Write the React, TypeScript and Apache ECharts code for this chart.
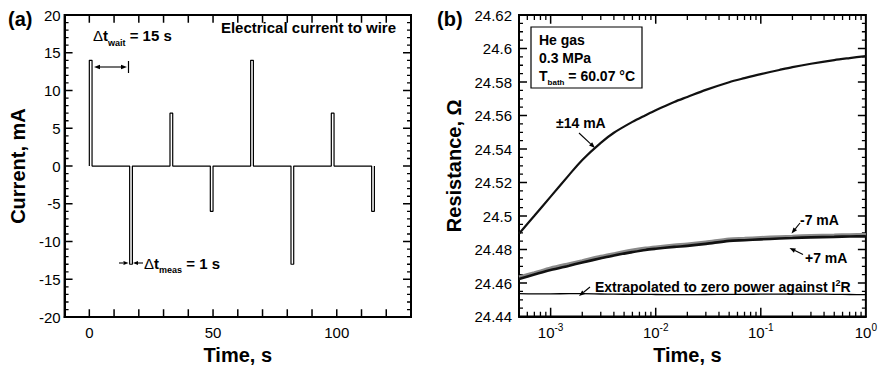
import React, { useEffect, useRef } from "react";
import * as echarts from "echarts";

// ---------- Panel (a): current pulses ----------
const pulseStart = [0, 16.3, 32.6, 48.9, 65.2, 81.5, 97.8, 114.1]; // s
const pulseAmp = [14, -13, 7, -6, 14, -13, 7, -6]; // mA
const pulseWidth = 1.1; // s
const timeLabelsA = [0, 50, 100];

// ---------- Panel (b): resistance vs time ----------
const timeS = [5e-4, 7e-4, 1e-3, 1.5e-3, 2e-3, 3e-3, 4e-3, 6e-3, 8e-3, 0.01, 0.015, 0.02, 0.03, 0.05, 0.07, 0.1, 0.15, 0.2, 0.3, 0.5, 0.7, 1];
const r14mA = [24.4895, 24.5002, 24.5116, 24.5246, 24.5335, 24.5437, 24.5497, 24.5562, 24.5602, 24.5632, 24.5681, 24.5711, 24.5753, 24.5799, 24.5823, 24.5847, 24.5872, 24.5889, 24.5909, 24.5931, 24.5943, 24.5955];
const rMinus7mA = [24.4637, 24.4662, 24.469, 24.4716, 24.4734, 24.476, 24.4776, 24.4797, 24.4809, 24.4816, 24.4827, 24.4833, 24.4845, 24.4863, 24.4867, 24.4872, 24.4877, 24.488, 24.4884, 24.4887, 24.4889, 24.489];
const rPlus7mA = [24.4625, 24.4651, 24.4678, 24.4704, 24.4723, 24.4748, 24.4765, 24.4785, 24.4798, 24.4805, 24.4816, 24.4822, 24.4834, 24.4852, 24.4856, 24.4861, 24.4866, 24.4869, 24.4873, 24.4876, 24.4878, 24.4879];
const rZeroPower = [24.4537, 24.4536, 24.4536, 24.4537, 24.4537, 24.4535, 24.4534, 24.4533, 24.4533, 24.4532, 24.4531, 24.4531, 24.4532, 24.4533, 24.4533, 24.4534, 24.4534, 24.4534, 24.4534, 24.4533, 24.4532, 24.4531];
const decadeTimes = [1e-3, 1e-2, 1e-1];
const minorMultipliers = [2, 3, 4, 5, 6, 7, 8, 9];
const tMin = 5e-4;
const tMax = 1;

const FONT = "'Liberation Sans', Arial, Helvetica, sans-serif";
const BLACK = "#000";
const OB = 430; // left offset of panel (b) canvas
const GRID_W = 347;
const GRID_H = 307;

function arrow(x1: number, y1: number, x2: number, y2: number, head = 6, half = 2.3) {
  const dx = x2 - x1, dy = y2 - y1;
  const L = Math.hypot(dx, dy);
  const ux = dx / L, uy = dy / L;
  const bx = x2 - ux * head, by = y2 - uy * head;
  return [
    { type: "line", shape: { x1, y1, x2: bx, y2: by }, style: { stroke: BLACK, lineWidth: 1.1 } },
    {
      type: "polygon",
      shape: { points: [[x2, y2], [bx - uy * half, by + ux * half], [bx + uy * half, by - ux * half]] },
      style: { fill: BLACK },
    },
  ];
}

function txt(text: string, x: number, y: number, size = 14, align = "left", weight = "bold") {
  return {
    type: "text",
    style: { text, x, y, fill: BLACK, fontSize: size, fontWeight: weight, fontFamily: FONT, align, verticalAlign: "middle" },
  };
}

function range(a: number, b: number, step: number) {
  const out: number[] = [];
  const n = Math.round((b - a) / step);
  for (let i = 0; i <= n; i++) out.push(+(a + i * step).toFixed(6));
  return out;
}

// One short line series per tick mark, so ticks go through the axes' own scales.
function tickLine(p: number[], q: number[], width: number) {
  return {
    type: "line",
    data: [p, q],
    showSymbol: false,
    silent: true,
    z: 3,
    lineStyle: { color: BLACK, width },
  };
}

const nameStyle = { fontSize: 20, fontWeight: "bold", fontFamily: FONT, color: BLACK };
const labelStyle = { fontSize: 15, fontFamily: FONT, color: BLACK };

export default function App() {
  const refA = useRef<HTMLDivElement>(null);
  const refB = useRef<HTMLDivElement>(null);

  useEffect(() => {
    if (!refA.current || !refB.current) return;

    // ================= Panel (a) =================
    const chartA = echarts.init(refA.current, undefined, { renderer: "svg" });
    const wave: number[][] = [];
    pulseStart.forEach((s, i) => {
      wave.push([s, 0], [s, pulseAmp[i]], [s + pulseWidth, pulseAmp[i]], [s + pulseWidth, 0]);
    });

    const xA: [number, number] = [-10, 130];
    const yA: [number, number] = [-20, 20];
    const pxToY_A = (px: number) => (px * (yA[1] - yA[0])) / GRID_H;
    const pxToX_A = (px: number) => (px * (xA[1] - xA[0])) / GRID_W;
    const ticksA: any[] = [];
    range(xA[0], xA[1], 10)
      .filter((v) => v > xA[0] && v < xA[1])
      .forEach((v) => {
        ticksA.push(tickLine([v, yA[0]], [v, yA[0] + pxToY_A(8)], 1.5));
        ticksA.push(tickLine([v, yA[1]], [v, yA[1] - pxToY_A(8)], 1.5));
      });
    range(yA[0], yA[1], 1)
      .filter((v) => v > yA[0] && v < yA[1])
      .forEach((v) => {
        const major = v % 5 === 0;
        const len = pxToX_A(major ? 8 : 4);
        const w = major ? 1.5 : 1.3;
        ticksA.push(tickLine([xA[0], v], [xA[0] + len, v], w));
        ticksA.push(tickLine([xA[1], v], [xA[1] - len, v], w));
      });

    chartA.setOption({
      animation: false,
      backgroundColor: "#fff",
      grid: { left: 64, top: 15, width: GRID_W, height: GRID_H, show: true, borderColor: BLACK, borderWidth: 2, backgroundColor: "transparent" },
      xAxis: {
        type: "value",
        min: xA[0],
        max: xA[1],
        interval: 10,
        axisLine: { show: true, onZero: false, lineStyle: { color: BLACK, width: 2 } },
        axisTick: { show: false },
        axisLabel: { ...labelStyle, margin: 8, formatter: (v: number) => (timeLabelsA.includes(v) ? String(v) : "") },
        splitLine: { show: false },
        name: "Time, s",
        nameLocation: "middle",
        nameGap: 23,
        nameTextStyle: { ...nameStyle },
      },
      yAxis: {
        type: "value",
        min: yA[0],
        max: yA[1],
        interval: 5,
        axisLine: { show: true, onZero: false, lineStyle: { color: BLACK, width: 2 } },
        axisTick: { show: false },
        axisLabel: { ...labelStyle, margin: 4 },
        splitLine: { show: false },
        name: "Current, mA",
        nameLocation: "middle",
        nameGap: 34,
        nameTextStyle: { ...nameStyle },
      },
      series: [
        ...ticksA,
        { type: "line", data: wave, showSymbol: false, z: 4, lineStyle: { color: BLACK, width: 1.2 } },
      ],
      graphic: [
        txt("(a)", 8, 19, 20),
        {
          type: "text",
          style: {
            text: "{d|Δ}{t|t}{s|wait}{b| = 15 s}",
            x: 93,
            y: 35.5,
            verticalAlign: "middle",
            fill: BLACK,
            rich: {
              d: { fontSize: 15, fontFamily: FONT, fill: BLACK },
              t: { fontSize: 15, fontFamily: FONT, fontWeight: "bold", fill: BLACK },
              s: { fontSize: 9, fontFamily: FONT, fontWeight: "bold", fill: BLACK, padding: [14, 0, 0, 0] },
              b: { fontSize: 15, fontFamily: FONT, fontWeight: "bold", fill: BLACK },
            },
          },
        },
        ...arrow(110, 67, 94, 67),
        ...arrow(110, 67, 127, 67),
        { type: "line", shape: { x1: 128.5, y1: 61, x2: 128.5, y2: 73 }, style: { stroke: BLACK, lineWidth: 1.2 } },
        txt("Electrical current to wire", 396, 27, 15, "right"),
        {
          type: "text",
          style: {
            text: "{d|Δ}{t|t}{s|meas}{b| = 1 s}",
            x: 144,
            y: 263.5,
            verticalAlign: "middle",
            fill: BLACK,
            rich: {
              d: { fontSize: 15, fontFamily: FONT, fill: BLACK },
              t: { fontSize: 15, fontFamily: FONT, fontWeight: "bold", fill: BLACK },
              s: { fontSize: 9, fontFamily: FONT, fontWeight: "bold", fill: BLACK, padding: [12, 0, 0, 0] },
              b: { fontSize: 15, fontFamily: FONT, fontWeight: "bold", fill: BLACK },
            },
          },
        },
        ...arrow(119, 263, 128.5, 263, 5, 2),
        ...arrow(143, 263, 133, 263, 5, 2),
      ],
    });

    // ================= Panel (b) =================
    const chartB = echarts.init(refB.current, undefined, { renderer: "svg" });
    const mk = (arr: number[]) => arr.map((v, i) => [timeS[i], v]);
    const isDecade = (v: number) => {
      const e = Math.log10(v);
      return Math.abs(e - Math.round(e)) < 1e-6;
    };
    const yB: [number, number] = [24.44, 24.62];
    const decadesSpan = Math.log10(tMax) - Math.log10(tMin);
    const pxToY_B = (px: number) => (px * (yB[1] - yB[0])) / GRID_H;
    const pxToFactor_B = (px: number) => Math.pow(10, (px * decadesSpan) / GRID_W);
    const ticksB: any[] = [];
    const minorT: number[] = [];
    for (let d = -4; d <= -1; d++) {
      minorMultipliers.forEach((k) => {
        const t = k * Math.pow(10, d);
        if (t > tMin * 1.0001 && t < tMax) minorT.push(t);
      });
    }
    decadeTimes.forEach((t) => {
      ticksB.push(tickLine([t, yB[0]], [t, yB[0] + pxToY_B(9)], 1.5));
      ticksB.push(tickLine([t, yB[1]], [t, yB[1] - pxToY_B(9)], 1.5));
    });
    minorT.forEach((t) => {
      ticksB.push(tickLine([t, yB[0]], [t, yB[0] + pxToY_B(5)], 1.3));
      ticksB.push(tickLine([t, yB[1]], [t, yB[1] - pxToY_B(5)], 1.3));
    });
    range(yB[0], yB[1], 0.005)
      .filter((v) => v > yB[0] + 1e-6 && v < yB[1] - 1e-6)
      .forEach((v) => {
        const major = Math.abs(Math.round(v * 50) - v * 50) < 1e-6;
        const f = pxToFactor_B(major ? 8 : 4);
        const w = major ? 1.5 : 1.3;
        ticksB.push(tickLine([tMin, v], [tMin * f, v], w));
        ticksB.push(tickLine([tMax, v], [tMax / f, v], w));
      });

    chartB.setOption({
      animation: false,
      backgroundColor: "#fff",
      grid: { left: 519 - OB, top: 15, width: GRID_W, height: GRID_H, show: true, borderColor: BLACK, borderWidth: 2, backgroundColor: "transparent" },
      xAxis: {
        type: "log",
        logBase: 10,
        min: tMin,
        max: tMax,
        axisLine: { show: true, onZero: false, lineStyle: { color: BLACK, width: 2 } },
        axisTick: { show: false },
        axisLabel: {
          ...labelStyle,
          margin: 6,
          formatter: (v: number) => (isDecade(v) ? `{n|10}{e|${Math.round(Math.log10(v))}}` : ""),
          rich: {
            n: { fontSize: 15, fontFamily: FONT, color: BLACK },
            e: { fontSize: 10, fontFamily: FONT, color: BLACK, padding: [0, 0, 10, 0] },
          },
        },
        splitLine: { show: false },
        minorTick: { show: false },
        name: "Time, s",
        nameLocation: "middle",
        nameGap: 23,
        nameTextStyle: { ...nameStyle, padding: [0, 10, 0, 0] },
      },
      yAxis: {
        type: "value",
        min: yB[0],
        max: yB[1],
        interval: 0.02,
        axisLine: { show: true, onZero: false, lineStyle: { color: BLACK, width: 2 } },
        axisTick: { show: false },
        axisLabel: { ...labelStyle, margin: 7, formatter: (v: number) => String(+v.toFixed(2)) },
        splitLine: { show: false },
        name: "Resistance, Ω",
        nameLocation: "middle",
        nameGap: 53,
        nameTextStyle: { ...nameStyle },
      },
      series: [
        ...ticksB,
        { type: "line", data: mk(rMinus7mA), showSymbol: false, smooth: 0.3, z: 4, lineStyle: { color: "#8a8a8a", width: 3 } },
        { type: "line", data: mk(rPlus7mA), showSymbol: false, smooth: 0.3, z: 4, lineStyle: { color: "#111", width: 2.6 } },
        { type: "line", data: mk(r14mA), showSymbol: false, smooth: 0.3, z: 4, lineStyle: { color: "#111", width: 2.2 } },
        { type: "line", data: mk(rZeroPower), showSymbol: false, smooth: 0.3, z: 4, lineStyle: { color: BLACK, width: 1.3 } },
      ],
      graphic: (() => {
        const o = OB;
        return [
          txt("(b)", 437 - o, 19, 20),
          { type: "rect", shape: { x: 531 - o, y: 27, width: 111, height: 61 }, style: { fill: "#fff", stroke: BLACK, lineWidth: 1.2 }, z: 10 },
          { ...txt("He gas", 539 - o, 40, 14), z: 11 },
          { ...txt("0.3 MPa", 539 - o, 58, 14), z: 11 },
          {
            type: "text",
            z: 11,
            style: {
              text: "{b|T}{s|bath}{b| = 60.07 °C}",
              x: 539 - o,
              y: 76,
              verticalAlign: "middle",
              fill: BLACK,
              rich: {
                b: { fontSize: 14, fontFamily: FONT, fontWeight: "bold", fill: BLACK },
                s: { fontSize: 8, fontFamily: FONT, fontWeight: "bold", fill: BLACK, padding: [12, 0, 0, 0] },
              },
            },
          },
          txt("±14 mA", 556 - o, 123, 14),
          ...arrow(579 - o, 133, 595 - o, 148),
          txt("-7 mA", 800 - o, 220, 14),
          ...arrow(800 - o, 223, 791.5 - o, 233.5),
          txt("+7 mA", 805 - o, 258, 14),
          ...arrow(803 - o, 254.5, 789.5 - o, 248),
          {
            type: "text",
            style: {
              text: "{b|Extrapolated to zero power against I}{s|2}{b|R}",
              x: 595 - o,
              y: 287,
              verticalAlign: "middle",
              fill: BLACK,
              rich: {
                b: { fontSize: 14, fontFamily: FONT, fontWeight: "bold", fill: BLACK },
                s: { fontSize: 9, fontFamily: FONT, fontWeight: "bold", fill: BLACK, padding: [0, 0, 9, 0] },
              },
            },
          },
          ...arrow(590 - o, 287, 579 - o, 296),
        ];
      })(),
    });

    return () => {
      chartA.dispose();
      chartB.dispose();
    };
  }, []);

  return (
    <div style={{ position: "absolute", left: 0, top: 0, width: 880, height: 370, background: "#fff" }}>
      <div ref={refA} style={{ position: "absolute", left: 0, top: 0, width: OB, height: 370 }} />
      <div ref={refB} style={{ position: "absolute", left: OB, top: 0, width: 880 - OB, height: 370 }} />
    </div>
  );
}
